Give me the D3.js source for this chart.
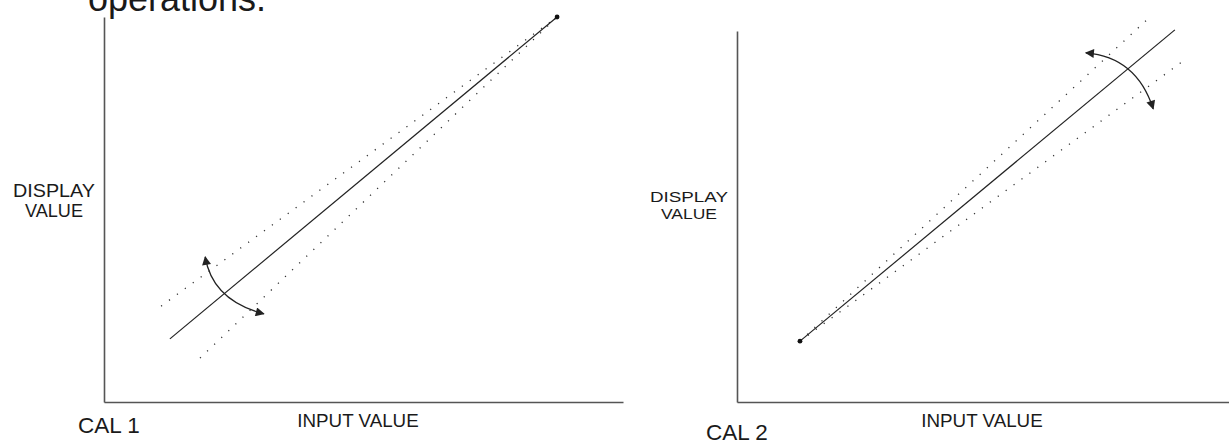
<!DOCTYPE html>
<html>
<head>
<meta charset="utf-8">
<script src="https://cdn.jsdelivr.net/npm/d3@7"></script>
<style>
  html, body { margin: 0; padding: 0; background: #fff; }
  svg { display: block; font-family: "Liberation Sans", Arial, Helvetica, sans-serif; }
</style>
</head>
<body>
<svg id="chart" width="1229" height="441"></svg>
<script>
// ---------- data (arbitrary units, 0..100 on both axes) ----------
const panels = ["CAL 1", "CAL 2"];
const axisLabelX = "INPUT VALUE";
const axisLabelY = ["DISPLAY", "VALUE"];
const headerText = "operations.";

// nominal calibration line [start, end]
const cal1Line = [[12.7, 16.4], [87.3, 100]];
const cal2Line = [[12.8, 16.4], [89.0, 100.3]];
// adjustable (dotted) lines; pivot is shared with the nominal line
const cal1Upper = [[11.0, 24.9], [87.3, 100]];
const cal1Lower = [[18.5, 11.4], [87.3, 100]];
const cal2Upper = [[12.8, 16.4], [83.3, 103.0]];
const cal2Lower = [[12.8, 16.4], [91.5, 92.7]];
// pivot points (dot)
const cal1Pivot = [87.3, 100];
const cal2Pivot = [12.8, 16.4];
// adjustment arc: start, control, end
const cal1Arc = [[19.5, 37.7], [20.9, 26.4], [30.8, 22.9]];
const cal2Arc = [[70.9, 94.1], [81.2, 93.0], [84.6, 79.0]];

const svg = d3.select("#chart");

// arrowhead marker
const defs = svg.append("defs");
defs.append("marker")
  .attr("id", "arrow")
  .attr("viewBox", "0 0 10 10")
  .attr("refX", 9).attr("refY", 5)
  .attr("markerUnits", "userSpaceOnUse")
  .attr("markerWidth", 11).attr("markerHeight", 9)
  .attr("orient", "auto-start-reverse")
  .append("path")
  .attr("d", "M0,0 L10,5 L0,10 Z")
  .attr("fill", "#222");

// header fragment (cut off at the top)
svg.append("text")
  .attr("x", 88).attr("y", 11)
  .attr("font-size", 36)
  .attr("fill", "#1a1a1a")
  .text(headerText);

const configs = [
  {
    name: panels[0],
    xr: [104, 623], yr: [402, 17],
    line: cal1Line, upper: cal1Upper, lower: cal1Lower,
    pivot: cal1Pivot, arc: cal1Arc,
    ylab: { x: 54, y: 197, size: 17.6, gap: 20, widths: [82, 58] },
    xlab: { x: 358, y: 427, size: 18.8 },
    cal: { x: 78, y: 433, size: 22.5 }
  },
  {
    name: panels[1],
    xr: [737, 1229], yr: [402, 31],
    line: cal2Line, upper: cal2Upper, lower: cal2Lower,
    pivot: cal2Pivot, arc: cal2Arc,
    ylab: { x: 689, y: 202, size: 15.1, gap: 17, widths: [78, 56] },
    xlab: { x: 982, y: 427, size: 18.8 },
    cal: { x: 706, y: 440, size: 22.5 }
  }
];

configs.forEach(c => {
  const x = d3.scaleLinear().domain([0, 100]).range(c.xr);
  const y = d3.scaleLinear().domain([0, 100]).range(c.yr);
  const g = svg.append("g");

  // axes (no ticks)
  const xAxis = d3.axisBottom(x).tickValues([]).tickSizeOuter(0);
  const yAxis = d3.axisLeft(y).tickValues([]).tickSizeOuter(0);
  g.append("g").attr("transform", `translate(0,${y(0)})`).call(xAxis)
    .select(".domain").attr("stroke", "#555").attr("stroke-width", 1.6);
  g.append("g").attr("transform", `translate(${x(0)},0)`).call(yAxis)
    .select(".domain").attr("stroke", "#555").attr("stroke-width", 1.6);

  const line = d3.line().x(d => x(d[0])).y(d => y(d[1]));

  // dotted adjustable lines
  [c.upper, c.lower].forEach(seg => {
    g.append("path")
      .attr("d", line(seg))
      .attr("fill", "none")
      .attr("stroke", "#333")
      .attr("stroke-width", 1.3)
      .attr("stroke-dasharray", "1.2 8.6");
  });

  // nominal solid line
  g.append("path")
    .attr("d", line(c.line))
    .attr("fill", "none")
    .attr("stroke", "#222")
    .attr("stroke-width", 1.2);

  // pivot dot
  g.append("circle")
    .attr("cx", x(c.pivot[0])).attr("cy", y(c.pivot[1]))
    .attr("r", 2.4).attr("fill", "#111");

  // adjustment arc with arrowheads
  const p = d3.path();
  p.moveTo(x(c.arc[0][0]), y(c.arc[0][1]));
  p.quadraticCurveTo(x(c.arc[1][0]), y(c.arc[1][1]), x(c.arc[2][0]), y(c.arc[2][1]));
  g.append("path")
    .attr("d", p.toString())
    .attr("fill", "none")
    .attr("stroke", "#222")
    .attr("stroke-width", 1.3)
    .attr("marker-start", "url(#arrow)")
    .attr("marker-end", "url(#arrow)");

  // y label (two lines)
  axisLabelY.forEach((t, i) => {
    g.append("text")
      .attr("x", c.ylab.x).attr("y", c.ylab.y + i * c.ylab.gap)
      .attr("text-anchor", "middle")
      .attr("font-size", c.ylab.size)
      .attr("textLength", c.ylab.widths[i])
      .attr("lengthAdjust", "spacingAndGlyphs")
      .attr("fill", "#1a1a1a")
      .text(t);
  });

  // x label
  g.append("text")
    .attr("x", c.xlab.x).attr("y", c.xlab.y)
    .attr("text-anchor", "middle")
    .attr("font-size", c.xlab.size)
    .attr("fill", "#1a1a1a")
    .text(axisLabelX);

  // panel name
  g.append("text")
    .attr("x", c.cal.x).attr("y", c.cal.y)
    .attr("font-size", c.cal.size)
    .attr("fill", "#1a1a1a")
    .text(c.name);
});
</script>
</body>
</html>
